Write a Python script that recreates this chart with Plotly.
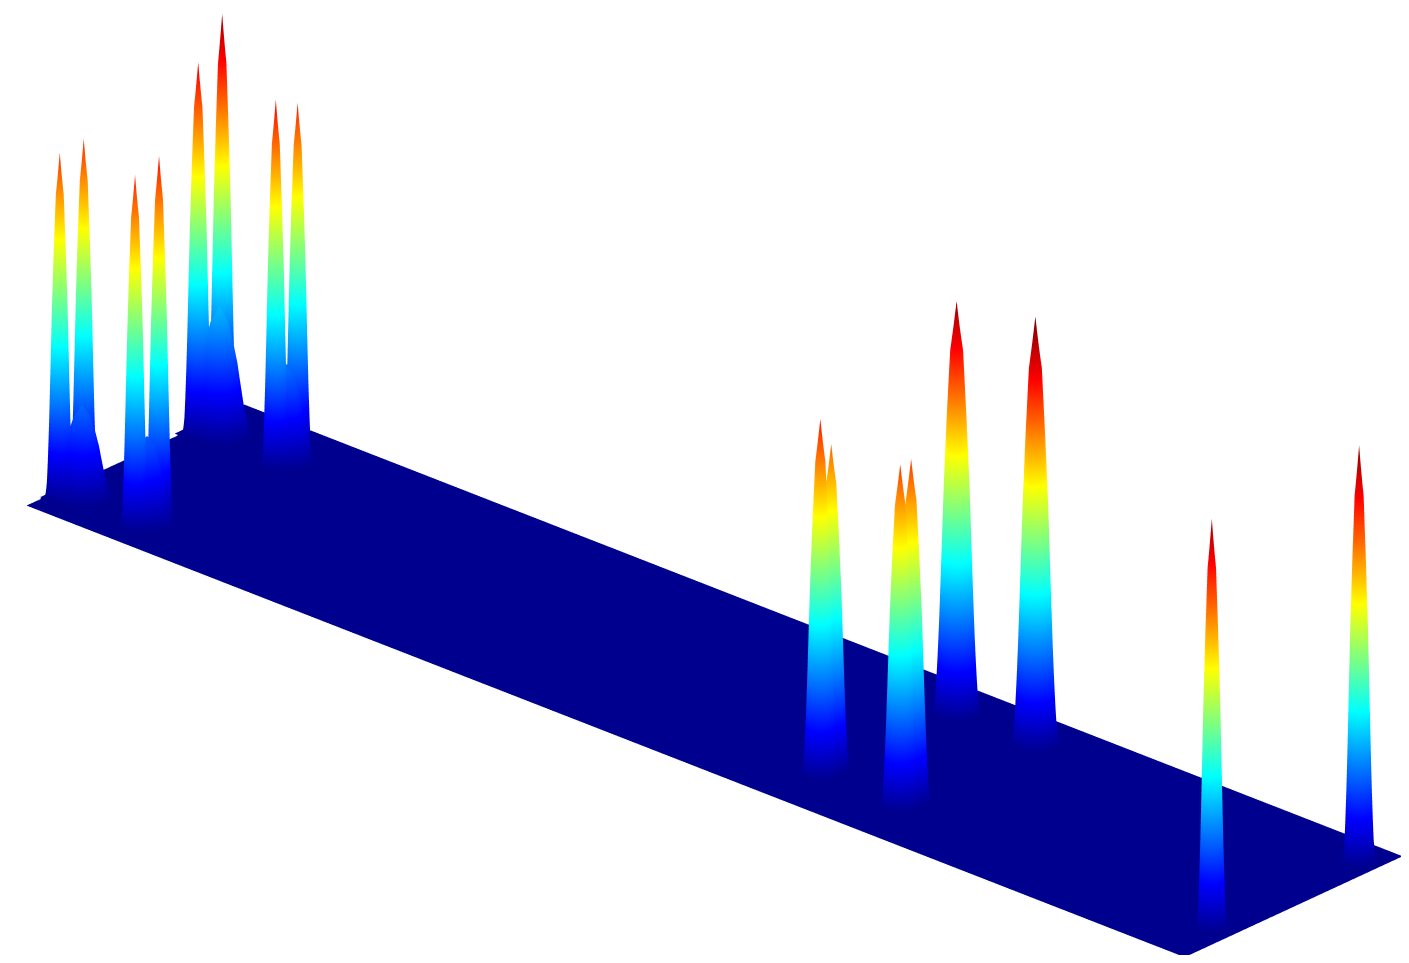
import plotly.graph_objects as go

# Peak centres on the plate (fraction along long edge, fraction along short edge),
# heights and footprint scale, all read from the picture.
peak_u = [0.008, 0.008, 0.073, 0.073, 0.009, 0.009, 0.076, 0.076, 0.644, 0.644, 0.713, 0.713, 0.645, 0.713, 0.982, 0.985]
peak_v = [0.11, 0.22, 0.11, 0.22, 0.74, 0.85, 0.74, 0.84, 0.22, 0.27, 0.22, 0.27, 0.84, 0.84, 0.22, 0.88]
peak_h = [341, 344, 348, 356, 368, 405, 361, 348, 351, 321, 337, 337, 406, 421, 403, 411]
peak_w = [0.7, 0.7, 0.7, 0.7, 0.75, 0.75, 0.7, 0.7, 0.9, 0.9, 0.95, 0.95, 1.15, 1.15, 0.75, 0.8]

# Wider blue skirts under the four left-hand pairs
skirt_u = [0.017, 0.073, 0.017, 0.076]
skirt_v = [0.165, 0.165, 0.795, 0.79]
skirt_h = [90, 85, 125, 95]
skirt_w = [1.5, 1.4, 1.6, 1.4]

# Shared spike profile read from the tallest peak: offsets and height fractions
offsets = [-20, -16, -12, -8, -4, 0, 4, 8, 12, 16, 20]
shape = [
    [0, 0, 0, 0, 0, 0, 0, 0, 0, 0, 0],
    [0, 0, 0, 0.05, 0.12, 0.15, 0.12, 0.05, 0, 0, 0],
    [0, 0, 0.09, 0.30, 0.46, 0.52, 0.46, 0.30, 0.09, 0, 0],
    [0, 0.05, 0.30, 0.55, 0.72, 0.82, 0.72, 0.55, 0.30, 0.05, 0],
    [0, 0.12, 0.46, 0.72, 0.88, 0.93, 0.88, 0.72, 0.46, 0.12, 0],
    [0, 0.15, 0.52, 0.82, 0.93, 1.00, 0.93, 0.82, 0.52, 0.15, 0],
    [0, 0.12, 0.46, 0.72, 0.88, 0.93, 0.88, 0.72, 0.46, 0.12, 0],
    [0, 0.05, 0.30, 0.55, 0.72, 0.82, 0.72, 0.55, 0.30, 0.05, 0],
    [0, 0, 0.09, 0.30, 0.46, 0.52, 0.46, 0.30, 0.09, 0, 0],
    [0, 0, 0, 0.05, 0.12, 0.15, 0.12, 0.05, 0, 0, 0],
    [0, 0, 0, 0, 0, 0, 0, 0, 0, 0, 0],
]

plate_x = [0, 1]
plate_y = [0, 1]
plate_z = [[0, 0], [0, 0]]

LEN_X, LEN_Y = 1569.0, 328.0
Z_MAX = 421

matlab_jet = [
    [0.0, "rgb(0,0,143)"],
    [0.11, "rgb(0,0,255)"],
    [0.36, "rgb(0,255,255)"],
    [0.61, "rgb(255,255,0)"],
    [0.86, "rgb(255,0,0)"],
    [1.0, "rgb(128,0,0)"],
]

common = dict(
    colorscale=matlab_jet, cmin=0, cmax=Z_MAX, showscale=False, hoverinfo="skip",
    lighting=dict(ambient=1, diffuse=0, specular=0, roughness=1, fresnel=0),
)


def spike(u, v, h, w):
    xs = [u + o * w / LEN_X for o in offsets]
    ys = [v + o * w / LEN_Y for o in offsets]
    zs = [[h * s for s in row] for row in shape]
    return go.Surface(x=xs, y=ys, z=zs, **common)


fig = go.Figure()
fig.add_trace(go.Surface(x=plate_x, y=plate_y, z=plate_z, **common))
for u, v, h, w in zip(skirt_u, skirt_v, skirt_h, skirt_w):
    fig.add_trace(spike(u, v, h, w))
for u, v, h, w in zip(peak_u, peak_v, peak_h, peak_w):
    fig.add_trace(spike(u, v, h, w))

hidden = dict(visible=False, showgrid=False, zeroline=False, showticklabels=False, showbackground=False)

view = (0.612, -0.667, 0.425)  # viewing direction
k = 0.926                      # eye distance factor
t = 1.2                        # slide camera back along the view so nothing is clipped
pan = (-0.0157, -0.0144, -0.032)  # small screen shift
center = [pan[i] + t * view[i] for i in range(3)]
eye = [center[i] + k * view[i] for i in range(3)]

fig.update_layout(
    margin=dict(l=0, r=0, t=0, b=0),
    paper_bgcolor="white",
    showlegend=False,
    scene=dict(
        domain=dict(x=[0, 1], y=[0, 1]),
        xaxis=dict(range=[-0.01, 1.01], **hidden),
        yaxis=dict(range=[-0.02, 1.02], **hidden),
        zaxis=dict(range=[0, Z_MAX], **hidden),
        aspectmode="manual",
        aspectratio=dict(x=3.386, y=0.708, z=0.9945),
        camera=dict(
            projection=dict(type="orthographic"),
            up=dict(x=0, y=0, z=1),
            center=dict(x=center[0], y=center[1], z=center[2]),
            eye=dict(x=eye[0], y=eye[1], z=eye[2]),
        ),
    ),
)
fig.write_html("out.html")
